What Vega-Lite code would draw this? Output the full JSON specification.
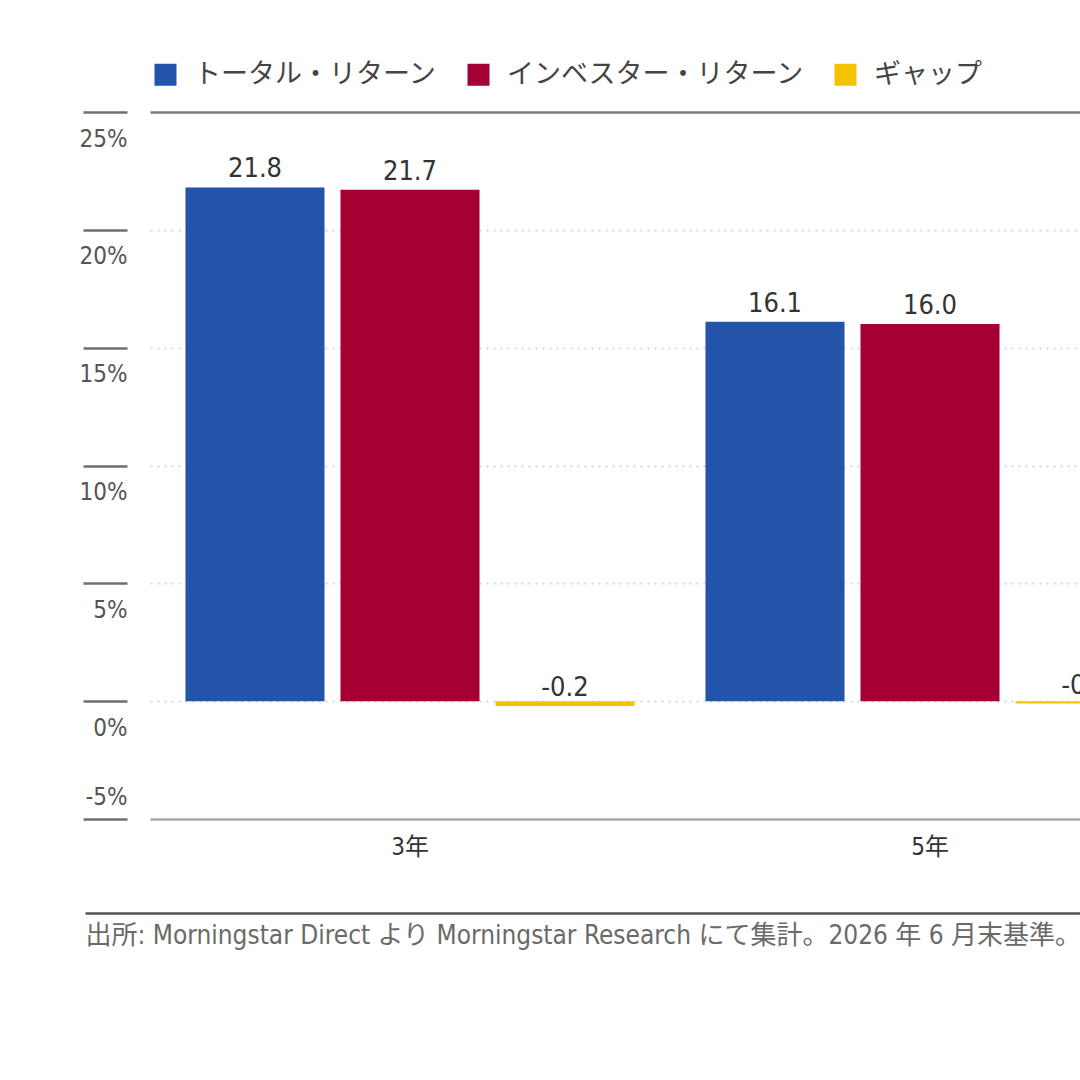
{
  "$schema": "https://vega.github.io/schema/vega-lite/v6.json",
  "width": 930,
  "height": 707,
  "autosize": {"type": "none"},
  "padding": {"left": 150, "top": 112, "right": 0, "bottom": 261},
  "background": "white",
  "config": {
    "view": {"stroke": null},
    "font": "Liberation Sans Narrow, DejaVu Sans Condensed, Noto Sans CJK JP",
    "locale": {
      "number": {"decimal": ".", "thousands": ",", "grouping": [3], "currency": ["", ""], "minus": "-"}
    }
  },
  "data": {
    "values": [
      {"period": "3年", "series": "トータル・リターン", "value": 21.8},
      {"period": "3年", "series": "インベスター・リターン", "value": 21.7},
      {"period": "3年", "series": "ギャップ", "value": -0.2},
      {"period": "5年", "series": "トータル・リターン", "value": 16.1},
      {"period": "5年", "series": "インベスター・リターン", "value": 16.0},
      {"period": "5年", "series": "ギャップ", "value": -0.1}
    ]
  },
  "encoding": {
    "xOffset": {
      "field": "series",
      "type": "nominal",
      "scale": {
        "domain": ["トータル・リターン", "インベスター・リターン", "ギャップ"],
        "paddingInner": 0.103,
        "paddingOuter": 0.229
      }
    },
    "y": {
      "field": "value",
      "type": "quantitative",
      "scale": {"domain": [-5, 25], "nice": false, "zero": false},
      "axis": {
        "values": [-5, 0, 5, 10, 15, 20, 25],
        "title": null,
        "domain": false,
        "offset": 23,
        "ticks": true,
        "tickSize": 44,
        "tickWidth": 2.5,
        "tickColor": "#707070",
        "labelPadding": -44,
        "labelAlign": "right",
        "labelBaseline": "middle",
        "labelOffset": {"condition": {"test": "datum.value < 0", "value": -22}, "value": 27},
        "labelExpr": "datum.value + '%'",
        "labelFontSize": 24,
        "labelColor": "#555555",
        "labelFlush": false,
        "labelOverlap": false,
        "labelBound": false,
        "grid": true,
        "gridColor": {
          "condition": [
            {"test": "datum.value === 25", "value": "#7a7a7a"},
            {"test": "datum.value === -5", "value": "#a8a8a8"}
          ],
          "value": "#d6d6d6"
        },
        "gridDash": {
          "condition": {"test": "datum.value === 25 || datum.value === -5", "value": []},
          "value": [2, 5]
        },
        "gridWidth": {
          "condition": {"test": "datum.value === 25 || datum.value === -5", "value": 2.5},
          "value": 2
        }
      }
    }
  },
  "layer": [
    {
      "mark": {"type": "bar"},
      "encoding": {
        "x": {
          "field": "period",
          "type": "nominal",
          "scale": {"domain": ["3年", "5年"], "range": [0, 1040], "paddingInner": 0, "paddingOuter": 0},
          "axis": {
            "orient": "bottom",
            "title": null,
            "domain": false,
            "ticks": false,
            "labelPadding": 16,
            "labelAngle": 0,
            "labelFontSize": 24,
            "labelColor": "#333333"
          }
        },
        "color": {
          "field": "series",
          "type": "nominal",
          "scale": {
            "domain": ["トータル・リターン", "インベスター・リターン", "ギャップ"],
            "range": ["#2254a9", "#a50034", "#f3c300"]
          },
          "legend": {
            "orient": "none",
            "legendX": 2,
            "legendY": -51,
            "direction": "horizontal",
            "title": null,
            "padding": 0,
            "symbolType": "square",
            "symbolSize": 484,
            "symbolStrokeWidth": 0,
            "symbolOpacity": 1,
            "labelFont": "Noto Sans CJK JP",
            "labelFontSize": 27,
            "labelColor": "#444444",
            "labelOffset": 15,
            "columnPadding": 28,
            "labelLimit": 0
          }
        }
      }
    },
    {
      "mark": {"type": "text", "baseline": "alphabetic", "dy": -10, "fontSize": 27, "color": "#333333"},
      "encoding": {
        "x": {
          "field": "period",
          "type": "nominal",
          "scale": {"domain": ["3年", "5年"], "range": [-65, 1105], "paddingInner": 0, "paddingOuter": 0.125},
          "axis": {
            "orient": "bottom",
            "title": "出所: Morningstar Direct より Morningstar Research にて集計。2026 年 6 月末基準。",
            "labels": false,
            "ticks": false,
            "grid": false,
            "domain": true,
            "domainColor": "#555555",
            "domainWidth": 2.5,
            "offset": 94,
            "titleX": -65,
            "titleY": 22,
            "titleAlign": "left",
            "titleAnchor": "start",
            "titleBaseline": "middle",
            "titleFontSize": 26,
            "titleFontWeight": "normal",
            "titleColor": "#6a6a6a",
            "titleLimit": 0
          }
        },
        "text": {"field": "value", "type": "quantitative", "format": ".1f"}
      }
    }
  ],
  "resolve": {"scale": {"x": "independent"}, "axis": {"x": "independent"}}
}
